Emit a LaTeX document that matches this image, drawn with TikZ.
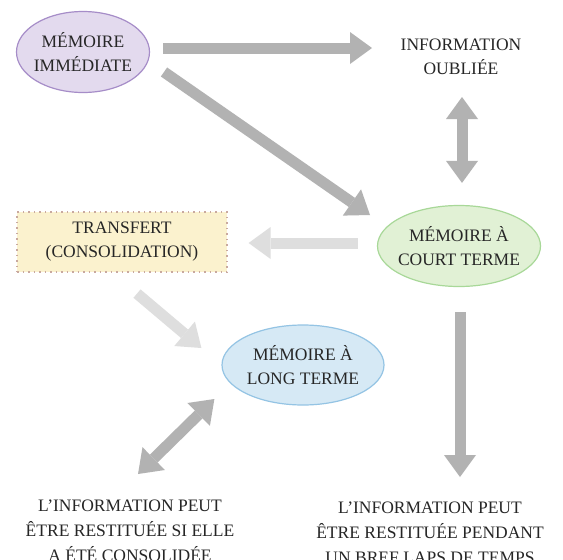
\documentclass[tikz,border=0pt]{standalone}
\usepackage{fontspec}
\setmainfont{Liberation Serif}
\usetikzlibrary{arrows.meta,shapes.geometric,positioning}

\definecolor{immfill}{HTML}{E3DAEE}
\definecolor{immline}{HTML}{A68DC8}
\definecolor{courtfill}{HTML}{E1F1D5}
\definecolor{courtline}{HTML}{A8D898}
\definecolor{longfill}{HTML}{D6E9F5}
\definecolor{longline}{HTML}{94C4E4}
\definecolor{transfill}{HTML}{FBF2CE}
\definecolor{transline}{HTML}{C9A99F}

\tikzset{
  label text/.style={font=\fontsize{17.5}{24}\selectfont, text=black!85, align=center},
  memory/.style={label text, ellipse, draw, line width=1.2pt, inner xsep=-6pt, inner ysep=0pt},
  fat arrow/.style={line width=11pt, draw=black!30,
    -{Triangle[width=32pt,length=22pt,line width=0pt]}},
  fat double/.style={line width=11pt, draw=black!30,
    {Triangle[width=32pt,length=22pt,line width=0pt]}-{Triangle[width=32pt,length=22pt,line width=0pt]}},
  pale arrow/.style={fat arrow, draw=black!13},
}

\begin{document}
\begin{tikzpicture}[x=1pt,y=-1pt]
  \path [use as bounding box, fill=white] (0,0) rectangle (563,560);

  \node [memory, fill=immfill, draw=immline, minimum width=133pt, minimum height=81pt] (imm) at (83,52) {MÉMOIRE\\IMMÉDIATE};
  \node [label text] (oubli) at (461,57) {INFORMATION\\OUBLIÉE};
  \node [memory, fill=courtfill, draw=courtline, minimum width=163pt, minimum height=81pt] (court) at (459,246) {MÉMOIRE À\\COURT TERME};
  \node [label text, fill=transfill, draw=transline, line width=1.2pt, dash pattern=on 1.5pt off 4pt,
    minimum width=210pt, minimum height=60pt] (trans) at (122,242) {TRANSFERT\\(CONSOLIDATION)};
  \node [memory, fill=longfill, draw=longline, minimum width=162pt, minimum height=80pt] (long) at (303,365) {MÉMOIRE À\\LONG TERME};
  \node [label text, font=\fontsize{17.5}{25}\selectfont] (bleft) at (130,531) {L’INFORMATION PEUT\\ÊTRE RESTITUÉE SI ELLE\\A ÉTÉ CONSOLIDÉE};
  \node [label text, font=\fontsize{17.5}{25}\selectfont] (bright) at (430,533) {L’INFORMATION PEUT\\ÊTRE RESTITUÉE PENDANT\\UN BREF LAPS DE TEMPS};

  \draw [fat arrow] ([shift={(13,-4)}]imm.east) -- ([shift={(-89,-9)}]oubli.center);
  \draw [fat arrow] ([shift={(81,20)}]imm.center) -- ([shift={(-89,-31)}]court.center);
  \draw [fat double] ([shift={(1,40)}]oubli.center) -- ([shift={(3,-22)}]court.north);
  \draw [pale arrow] ([shift={(-19,-3)}]court.west) -- ([shift={(21,1)}]trans.east);
  \draw [pale arrow] ([shift={(15,21)}]trans.south) -- ([shift={(-20,-17)}]long.west);
  \draw [fat double] ([shift={(-7,34)}]long.west) -- ([shift={(8,-57)}]bleft.center);
  \draw [fat arrow] ([shift={(1,25)}]court.south) -- ([shift={(30,-56)}]bright.center);
\end{tikzpicture}
\end{document}
